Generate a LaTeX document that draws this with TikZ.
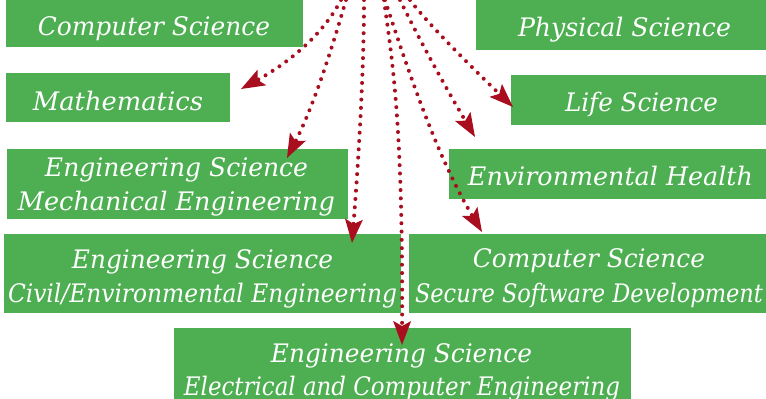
\documentclass[tikz,border=0pt]{standalone}
\usepackage{fontspec}
\usetikzlibrary{arrows.meta}
\newfontfamily\lblfont{DejaVu Serif}
\definecolor{boxgreen}{RGB}{77,175,81}
\definecolor{arrowred}{RGB}{168,14,30}
\newcommand\fitw[2]{\resizebox{#1pt}{\height}{#2}}
\tikzset{
  box/.style={draw=none, fill=boxgreen, inner sep=0pt, anchor=north west},
  txt/.style={text=white, inner sep=0pt, anchor=base, font=\lblfont\itshape\fontsize{25.5}{30}\selectfont},
  dotarrow/.style={draw=arrowred, line width=4pt, line cap=round, dash pattern=on 0pt off 8.3pt,
    -{Stealth[length=24pt, width=18pt, inset=5pt, fill=arrowred, line width=0pt]}}
}
\begin{document}
\begin{tikzpicture}[x=1pt, y=-1pt]
\useasboundingbox (0,0) rectangle (766,399);
\clip (0,0) rectangle (766,399);
% boxes
\node[box, minimum width=297pt, minimum height=47pt] (cs) at (6,0) {};
\node[box, minimum width=224pt, minimum height=49pt] (math) at (6,73) {};
\node[box, minimum width=290pt, minimum height=50pt] (phys) at (476,0) {};
\node[box, minimum width=255pt, minimum height=50pt] (life) at (511,75) {};
\node[box, minimum width=341pt, minimum height=70pt] (mech) at (7,149) {};
\node[box, minimum width=317pt, minimum height=50pt] (env) at (449,149) {};
\node[box, minimum width=397pt, minimum height=79pt] (civil) at (4,234) {};
\node[box, minimum width=357pt, minimum height=79pt] (secure) at (409,234) {};
\node[box, minimum width=457pt, minimum height=72pt] (elec) at (174,328) {};
% texts
\node[txt] (cs-t) at (154,35) {\fitw{232}{Computer Science}};
\node[txt] (math-t) at (118,110) {\fitw{170}{Mathematics}};
\node[txt] (phys-t) at (624.5,36) {\fitw{213}{Physical Science}};
\node[txt] (life-t) at (641.5,111) {\fitw{153}{Life Science}};
\node[txt] (env-t) at (610.5,185) {\fitw{285}{Environmental Health}};
\node[txt] (mech-t1) at (176.5,176) {\fitw{263}{Engineering Science}};
\node[txt] (mech-t2) at (176.5,210) {\fitw{317}{Mechanical Engineering}};
\node[txt] (civil-t1) at (202.5,268) {\fitw{261}{Engineering Science}};
\node[txt] (civil-t2) at (202.5,302.5) {\fitw{389}{Civil/Environmental Engineering}};
\node[txt] (secure-t1) at (589,267) {\fitw{232}{Computer Science}};
\node[txt] (secure-t2) at (589,302) {\fitw{348}{Secure Software Development}};
\node[txt] (elec-t1) at (401.5,362) {\fitw{261}{Engineering Science}};
\node[txt] (elec-t2) at (402,395) {\fitw{436}{Electrical and Computer Engineering}};
% arrow start and end points
\coordinate (s-math) at (341,0);
\coordinate (s-mech) at (346,0);
\coordinate (s-civil) at (364,0);
\coordinate (s-elec) at (384,0);
\coordinate (s-secure) at (385,0);
\coordinate (s-env) at (400,0);
\coordinate (s-life) at (410,0);
\coordinate (e-math) at (241,89);
\coordinate (e-mech) at (287,158);
\coordinate (e-civil) at (352,243);
\coordinate (e-elec) at (402,345);
\coordinate (e-secure) at (482,232);
\coordinate (e-env) at (475,137);
\coordinate (e-life) at (513,107);
% arrows
\draw[dotarrow] (s-math) .. controls (320,40) and (281,67) .. (e-math);
\draw[dotarrow] (s-mech) .. controls (330,55) and (313,107) .. (e-mech);
\draw[dotarrow] (s-civil) .. controls (364,80) and (357,180) .. (e-civil);
\draw[dotarrow] (s-elec) .. controls (392,60) and (403,120) .. (e-elec);
\draw[dotarrow] (s-secure) .. controls (411,80) and (439,160) .. (e-secure);
\draw[dotarrow] (s-env) .. controls (422,45) and (450,95) .. (e-env);
\draw[dotarrow] (s-life) .. controls (430,27) and (488,83) .. (e-life);
\end{tikzpicture}
\end{document}
